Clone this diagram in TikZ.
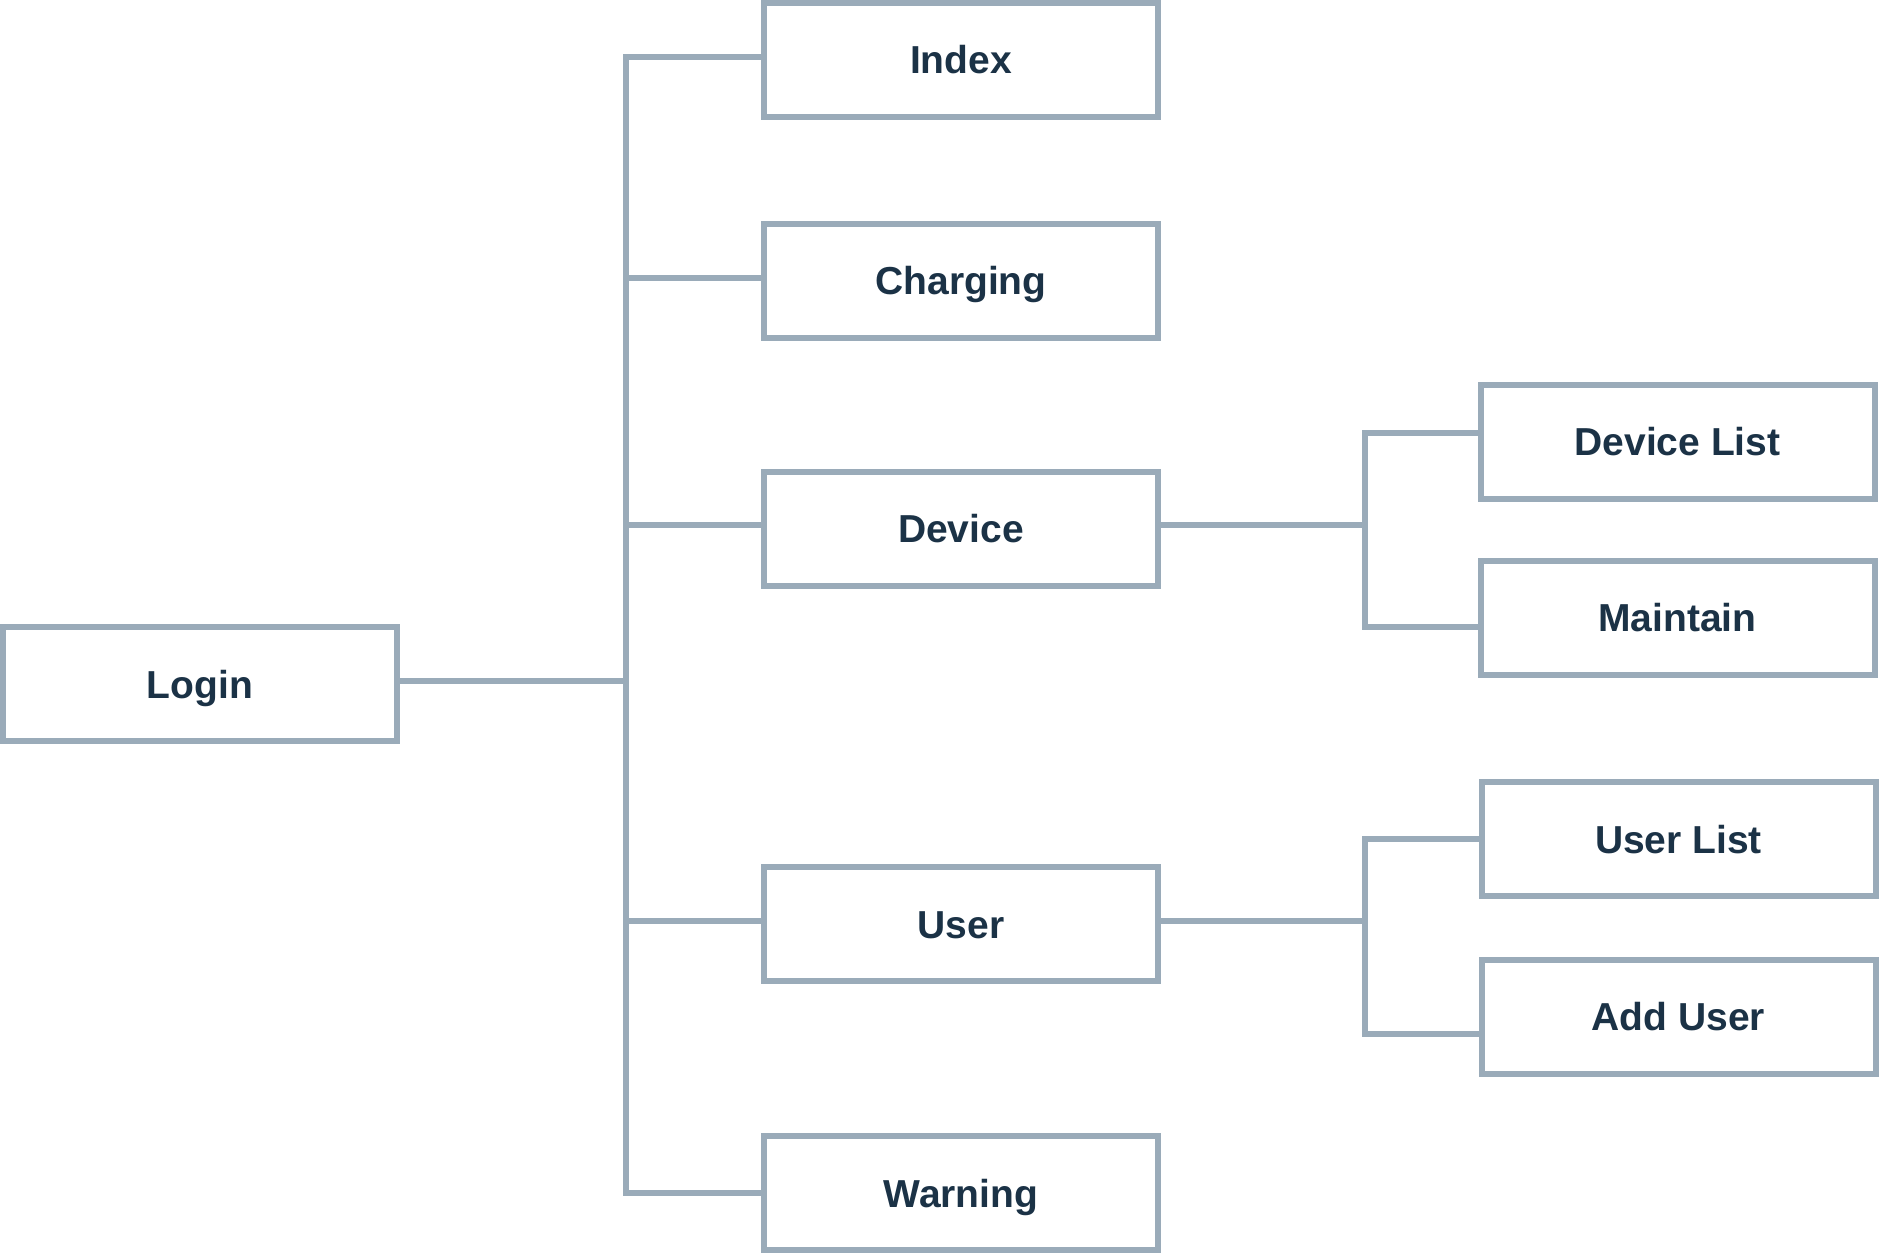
\documentclass[tikz,border=0pt]{standalone}
\usepackage{fontspec}
\setmainfont{Liberation Sans}
\definecolor{linec}{HTML}{9AABB9}
\definecolor{textc}{HTML}{1B3246}
\tikzset{
  box/.style={draw=linec, line width=6pt, fill=white, minimum width=394pt, minimum height=114pt,
    inner sep=0pt, outer sep=0pt, text height=28pt, text depth=0pt,
    font=\fontsize{39}{46}\selectfont\bfseries, text=textc},
  conn/.style={draw=linec, line width=6pt}
}
\begin{document}
\begin{tikzpicture}[x=1pt,y=-1pt]
\useasboundingbox (0,0) rectangle (1880,1254);
\node[box] (Login) at (200,684) {Login};
\node[box] (Index) at (961,59.5) {Index};
\node[box] (Charging) at (961,280.5) {Charging};
\node[box] (Device) at (961,528.8) {Device};
\node[box] (User) at (961,924.4) {User};
\node[box] (Warning) at (961,1193) {Warning};
\node[box] (DevList) at (1677.5,441.8) {Device List};
\node[box] (Maint) at (1677.5,617.5) {Maintain};
\node[box] (UserList) at (1678.5,839.3) {User List};
\node[box] (AddUser) at (1678.5,1016.7) {Add User};
\coordinate (tr) at (626,0);
\coordinate (tr2) at (1364.5,0);
\coordinate (dlw) at ([yshift=9pt]DevList.west);
\coordinate (mtw) at ([yshift=-9.5pt]Maint.west);
\coordinate (auw) at ([yshift=-17pt]AddUser.west);
% main trunk
\draw[conn] ([yshift=3pt]Index.west) -| (tr |- Warning.west) -- (Warning.west);
\draw[conn] ([yshift=3pt]Login.east) -- ([yshift=3pt]Login.east -| tr);
\draw[conn] ([yshift=2.5pt]Charging.west) -- ([yshift=2.5pt]Charging.west -| tr);
\draw[conn] ([yshift=3.5pt]Device.west) -- ([yshift=3.5pt]Device.west -| tr);
\draw[conn] ([yshift=3.5pt]User.west) -- ([yshift=3.5pt]User.west -| tr);
% device subtree
\draw[conn] ([yshift=3.5pt]Device.east) -- ([yshift=3.5pt]Device.east -| tr2);
\draw[conn] (dlw) -| (tr2 |- mtw) -- (mtw);
% user subtree
\draw[conn] ([yshift=3.5pt]User.east) -- ([yshift=3.5pt]User.east -| tr2);
\draw[conn] (UserList.west) -| (tr2 |- auw) -- (auw);
\end{tikzpicture}
\end{document}
